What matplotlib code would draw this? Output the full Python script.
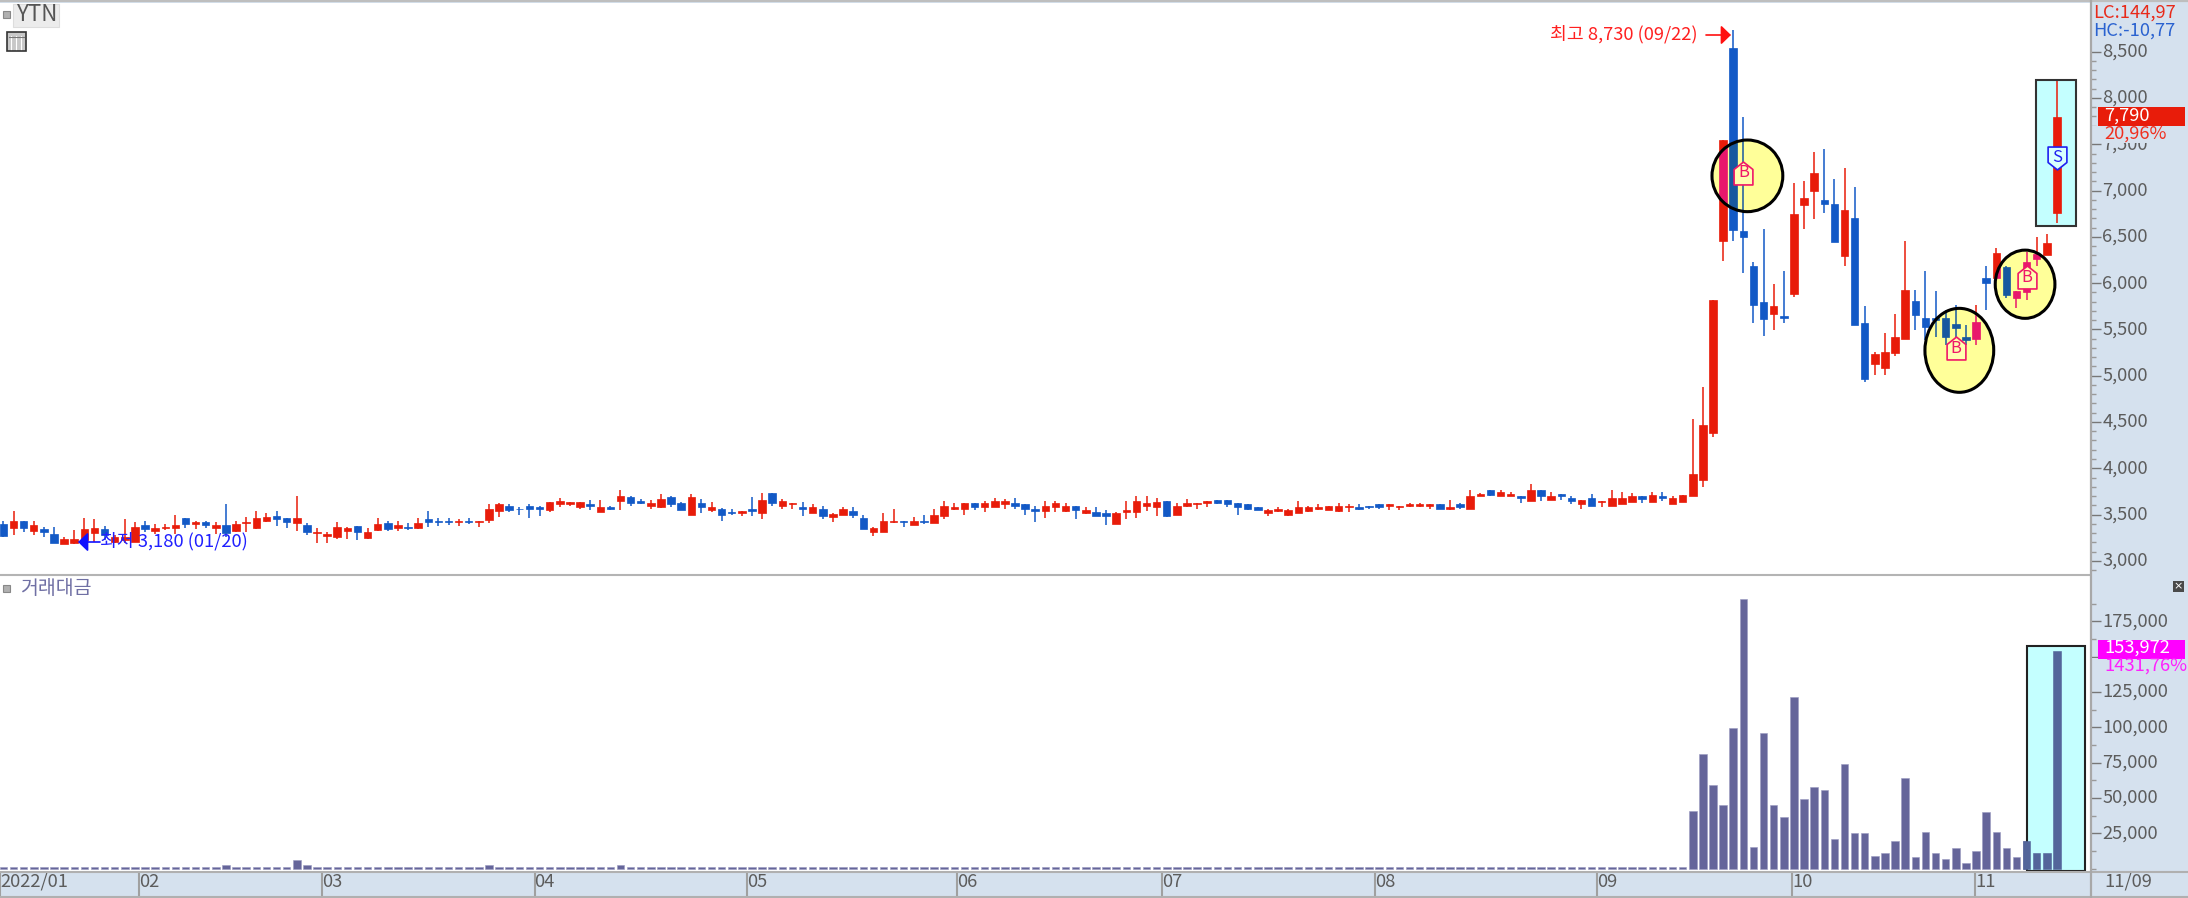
import matplotlib
matplotlib.use('Agg')
import matplotlib.pyplot as plt
from matplotlib.patches import Ellipse, Rectangle
from matplotlib.path import Path
from matplotlib.ticker import FuncFormatter
from matplotlib.transforms import ScaledTranslation

plt.rcParams['font.family'] = ['Noto Sans CJK KR', 'DejaVu Sans']

opens = [3400, 3360, 3430, 3320, 3345, 3285, 3180, 3190, 3220, 3305,
         3345, 3200, 3225, 3205, 3385, 3320, 3355, 3360, 3465, 3395,
         3415, 3360, 3385, 3325, 3410, 3355, 3425, 3485, 3465, 3405,
         3385, 3300, 3270, 3255, 3320, 3380, 3245, 3335, 3405, 3355,
         3370, 3355, 3450, 3435, 3430, 3420, 3435, 3420, 3440, 3540,
         3595, 3565, 3595, 3580, 3550, 3610, 3615, 3580, 3610, 3530,
         3580, 3645, 3690, 3645, 3590, 3580, 3690, 3630, 3500, 3630,
         3550, 3560, 3530, 3515, 3560, 3515, 3735, 3595, 3610, 3580,
         3515, 3565, 3470, 3500, 3535, 3465, 3310, 3310, 3415, 3435,
         3385, 3435, 3405, 3485, 3555, 3565, 3630, 3580, 3580, 3610,
         3630, 3610, 3565, 3540, 3580, 3535, 3595, 3515, 3530, 3515,
         3400, 3530, 3530, 3595, 3580, 3645, 3500, 3595, 3610, 3630,
         3655, 3660, 3625, 3610, 3580, 3515, 3535, 3500, 3515, 3535,
         3565, 3550, 3535, 3580, 3585, 3595, 3610, 3595, 3580, 3595,
         3595, 3595, 3610, 3565, 3610, 3565, 3695, 3760, 3705, 3695,
         3705, 3645, 3770, 3660, 3725, 3675, 3615, 3675, 3635, 3595,
         3615, 3635, 3695, 3635, 3700, 3615, 3635, 3695, 3875, 4380,
         6460, 8540, 6560, 6190, 5800, 5670, 5640, 5880, 6840, 6990,
         6900, 6850, 6290, 6700, 5570, 5130, 5080, 5250, 5400, 5810,
         5620, 5620, 5620, 5560, 5420, 5400, 6060, 6050, 6170, 5840,
         5900, 6260, 6300, 6760]
highs = [3425, 3540, 3430, 3425, 3370, 3370, 3260, 3335, 3465, 3450,
         3380, 3280, 3450, 3415, 3430, 3395, 3395, 3495, 3465, 3435,
         3435, 3415, 3610, 3425, 3475, 3540, 3515, 3540, 3465, 3705,
         3405, 3350, 3315, 3415, 3365, 3380, 3350, 3465, 3435, 3435,
         3405, 3465, 3540, 3465, 3460, 3450, 3465, 3430, 3610, 3630,
         3610, 3585, 3610, 3595, 3640, 3675, 3640, 3640, 3655, 3655,
         3595, 3760, 3695, 3670, 3655, 3720, 3705, 3640, 3720, 3670,
         3640, 3575, 3560, 3540, 3690, 3735, 3735, 3665, 3630, 3640,
         3610, 3595, 3520, 3580, 3580, 3495, 3370, 3515, 3565, 3435,
         3475, 3495, 3565, 3645, 3625, 3630, 3630, 3645, 3675, 3670,
         3675, 3610, 3595, 3645, 3645, 3630, 3595, 3580, 3580, 3550,
         3530, 3645, 3695, 3695, 3675, 3645, 3630, 3665, 3630, 3645,
         3655, 3660, 3630, 3610, 3580, 3565, 3580, 3565, 3645, 3595,
         3610, 3595, 3630, 3610, 3610, 3595, 3610, 3610, 3595, 3630,
         3630, 3610, 3610, 3660, 3630, 3770, 3735, 3760, 3770, 3740,
         3705, 3825, 3770, 3740, 3725, 3700, 3660, 3725, 3645, 3760,
         3740, 3730, 3695, 3740, 3740, 3695, 3710, 4535, 4875, 5820,
         7550, 8730, 7790, 6230, 6590, 5990, 6130, 7080, 7100, 7420,
         7450, 7130, 7240, 7040, 5750, 5260, 5460, 5670, 6450, 5930,
         6130, 5910, 5710, 5760, 5550, 5760, 6190, 6380, 6180, 5910,
         6340, 6500, 6530, 8180]
lows = [3255, 3280, 3310, 3280, 3255, 3190, 3180, 3180, 3190, 3205,
        3225, 3190, 3190, 3205, 3315, 3295, 3335, 3295, 3350, 3340,
        3350, 3295, 3255, 3310, 3315, 3345, 3415, 3375, 3355, 3320,
        3275, 3190, 3190, 3240, 3240, 3225, 3235, 3320, 3320, 3320,
        3335, 3345, 3370, 3375, 3385, 3375, 3395, 3370, 3405, 3475,
        3530, 3490, 3465, 3485, 3530, 3585, 3595, 3565, 3550, 3530,
        3550, 3550, 3595, 3610, 3560, 3575, 3580, 3550, 3500, 3515,
        3530, 3435, 3490, 3485, 3485, 3450, 3595, 3565, 3565, 3485,
        3515, 3450, 3415, 3490, 3465, 3340, 3270, 3310, 3405, 3370,
        3385, 3400, 3405, 3450, 3550, 3500, 3550, 3530, 3580, 3565,
        3565, 3495, 3415, 3465, 3530, 3530, 3450, 3510, 3485, 3385,
        3400, 3450, 3465, 3535, 3485, 3475, 3500, 3580, 3565, 3580,
        3610, 3580, 3500, 3550, 3550, 3485, 3530, 3485, 3515, 3530,
        3545, 3550, 3530, 3530, 3545, 3565, 3565, 3545, 3545, 3580,
        3580, 3565, 3565, 3550, 3565, 3565, 3695, 3695, 3695, 3695,
        3630, 3645, 3645, 3660, 3660, 3615, 3565, 3595, 3580, 3595,
        3615, 3635, 3630, 3635, 3645, 3615, 3635, 3695, 3795, 4340,
        6240, 6460, 6110, 5570, 5430, 5490, 5570, 5850, 6580, 6690,
        6760, 6440, 6180, 5550, 4930, 5010, 5010, 5210, 5400, 5490,
        5390, 5420, 5330, 5400, 5330, 5330, 5710, 6050, 5840, 5730,
        5820, 6180, 6300, 6650]
closes = [3270, 3430, 3350, 3385, 3310, 3195, 3235, 3235, 3345, 3350,
          3280, 3255, 3260, 3365, 3340, 3360, 3370, 3385, 3395, 3415,
          3390, 3385, 3305, 3400, 3420, 3465, 3475, 3455, 3420, 3465,
          3310, 3310, 3285, 3365, 3360, 3310, 3315, 3400, 3345, 3385,
          3355, 3410, 3420, 3415, 3415, 3435, 3420, 3430, 3555, 3615,
          3550, 3555, 3555, 3555, 3640, 3645, 3640, 3640, 3595, 3580,
          3555, 3695, 3630, 3630, 3630, 3670, 3610, 3550, 3690, 3580,
          3580, 3500, 3515, 3540, 3535, 3655, 3630, 3645, 3625, 3565,
          3580, 3485, 3505, 3565, 3500, 3340, 3350, 3435, 3435, 3415,
          3435, 3420, 3495, 3595, 3580, 3630, 3580, 3630, 3645, 3650,
          3595, 3565, 3535, 3595, 3630, 3595, 3550, 3550, 3485, 3485,
          3515, 3550, 3645, 3630, 3640, 3485, 3595, 3630, 3620, 3645,
          3630, 3610, 3580, 3565, 3550, 3545, 3565, 3545, 3580, 3580,
          3580, 3595, 3595, 3595, 3565, 3580, 3580, 3610, 3595, 3615,
          3615, 3610, 3565, 3580, 3580, 3705, 3725, 3710, 3740, 3725,
          3675, 3770, 3695, 3705, 3695, 3645, 3660, 3595, 3645, 3675,
          3675, 3695, 3670, 3710, 3675, 3675, 3710, 3935, 4470, 5820,
          7550, 6570, 6500, 5760, 5610, 5750, 5620, 6750, 6920, 7190,
          6860, 6440, 6790, 5550, 4960, 5230, 5260, 5420, 5930, 5660,
          5530, 5600, 5420, 5510, 5390, 5580, 6000, 6330, 5870, 5910,
          6230, 6320, 6430, 7790]
volumes = [1300, 1300, 1200, 1300, 1300, 1200, 1300, 1300, 1200, 1300,
           1300, 1200, 1300, 1300, 1200, 1300, 1300, 1200, 1300, 1300,
           1200, 1300, 2600, 1300, 1200, 1300, 1300, 1200, 1300, 6200,
           2400, 1300, 1200, 1300, 1300, 1200, 1300, 1300, 1200, 1300,
           1300, 1200, 1300, 1300, 1200, 1300, 1300, 1300, 2300, 1300,
           1200, 1300, 1300, 1200, 1300, 1300, 1200, 1300, 1300, 1200,
           1300, 2500, 1400, 1300, 1200, 1300, 1300, 1200, 1300, 1300,
           1200, 1300, 1300, 1200, 1300, 1300, 1300, 1200, 1300, 1300,
           1200, 1300, 1300, 1200, 1300, 1300, 1200, 1300, 1300, 1200,
           1300, 1300, 1200, 1300, 1300, 1200, 1300, 1300, 1200, 1300,
           1300, 1200, 1300, 1300, 1200, 1300, 1300, 1200, 1300, 1300,
           1200, 1300, 1300, 1200, 1300, 1300, 1200, 1300, 1300, 1200,
           1300, 1300, 1200, 1300, 1300, 1200, 1300, 1300, 1200, 1300,
           1300, 1200, 1300, 1300, 1200, 1300, 1300, 1200, 1300, 1300,
           1200, 1300, 1300, 1200, 1300, 1300, 1200, 1300, 1300, 1200,
           1300, 1400, 1300, 1300, 1200, 1300, 1300, 1200, 1300, 1300,
           1200, 1300, 1300, 1200, 1300, 1300, 1200,
           40800, 81350, 58950, 45270, 99500, 190750, 15560, 96200, 45270, 36800,
           121700, 49500, 58000, 55900, 21000, 74000, 25200, 25200, 9200, 11300,
           19800, 64400, 8250, 26200, 11300, 7000, 14600, 4000, 12500, 39850,
           26200, 14600, 8250, 19800, 11300, 11300, 153972]

month_pos = [-0.34, 13.45, 31.5, 52.5, 73.5, 94.3, 114.5, 135.6, 157.5, 176.8, 194.9]
month_labels = ['2022/01', '02', '03', '04', '05', '06', '07', '08', '09', '10', '11']
price_ticks = [3000, 3500, 4000, 4500, 5000, 5500, 6000, 6500, 7000, 7500, 8000, 8500]
vol_ticks = [25000, 50000, 75000, 100000, 125000, 150000, 175000]
buy_idx = [172, 193, 200]
buy_price = [7190, 5294, 6061]
sell_idx = [203]
sell_price = [7357]

RED, BLUE = '#E81C0A', '#1259C6'
PINK, DKBLUE = '#E8186C', '#17589F'
PANEL = '#D5E1EE'
FS = 13.2
W, H = 2188, 898
SP = 10.116  # px per candle
X0 = 3.4


def place(top, bottom, right=2090.5):
    return [0, 1 - bottom / H, right / W, (bottom - top) / H]


def draw_candles(ax, idx, up_col, down_col, clip=None, z=3):
    for i in idx:
        col = up_col if closes[i] >= opens[i] else down_col
        wick = ax.vlines(i, lows[i], highs[i], color=col, lw=1.1, zorder=z)
        body = ax.bar(i, abs(closes[i] - opens[i]), bottom=min(opens[i], closes[i]), width=0.74,
                      color=col, edgecolor=col, lw=0.5, zorder=z)
        if clip is not None:
            wick.set_clip_path(clip)
            body[0].set_clip_path(clip)


fig = plt.figure(figsize=(W / 100, H / 100), dpi=100, facecolor=PANEL)
ax = fig.add_axes(place(3, 575))
axv = fig.add_axes(place(576, 870.5))
for a in (ax, axv):
    a.set_xlim(-X0 / SP, (2090.5 - X0) / SP)
    a.set_facecolor('white')
    for s in a.spines.values():
        s.set_visible(False)
    a.yaxis.tick_right()
    a.tick_params(axis='y', which='major', length=7.5, width=1, color='#777777',
                  labelcolor='#5c5c5c', labelsize=FS, pad=1)
    a.tick_params(axis='y', which='minor', length=3.8, width=1, color='#999999')
    a.yaxis.set_major_formatter(FuncFormatter(lambda v, p: f'{v:,.0f}'))

ax.set_ylim(8500 - (575 - 51.7) / 0.09257, 8500 + (51.7 - 3) / 0.09257)
ax.set_xticks([])
ax.set_yticks(price_ticks)
ax.set_yticks(range(2900, 8600, 100), minor=True)

idx_all = list(range(len(opens)))
draw_candles(ax, idx_all, RED, BLUE)

# yellow circles round the buy signals, candles inside change colour
circles = [(172.4, 7159, 7.0, 774), (193.35, 5274, 6.8, 907), (199.85, 5988, 5.9, 737)]
for cx, cy, w, h in circles:
    fill = Ellipse((cx, cy), w, h, facecolor='#FFFF99', edgecolor='none', zorder=4)
    ax.add_patch(fill)
    near = [i for i in idx_all if abs(i - cx) < w]
    draw_candles(ax, near, PINK, DKBLUE, clip=fill, z=5)
    ax.add_patch(Ellipse((cx, cy), w, h, facecolor='none', edgecolor='black', lw=2.2, zorder=6))

# sell box on the last candle
ax.add_patch(Rectangle((200.9, 6617), 3.95, 1577, facecolor='#C4FFFF', edgecolor='#333333', lw=1.5, zorder=4))
draw_candles(ax, [203], RED, BLUE, z=5)

house = Path([(-0.82, -1), (0.82, -1), (0.82, 0.35), (0, 1), (-0.82, 0.35), (-0.82, -1)], closed=True)
shield = Path([(-0.82, 1), (0.82, 1), (0.82, -0.35), (0, -1), (-0.82, -0.35), (-0.82, 1)], closed=True)
ax.plot(buy_idx, buy_price, ls='none', marker=house, ms=16.5, mfc='#FFFFB0', mec='#F01868', mew=1.2, zorder=7)
ax.plot(sell_idx, sell_price, ls='none', marker=shield, ms=16.5, mfc='#D8FFFF', mec='#2020F0', mew=1.2, zorder=7)
for i, p in zip(buy_idx, buy_price):
    ax.text(i, p, 'B', color='#F01868', ha='center', va='center', fontsize=12, zorder=8)
for i, p in zip(sell_idx, sell_price):
    ax.text(i, p, 'S', color='#2020F0', ha='center', va='center', fontsize=12, zorder=8)

# volume pane
axv.set_ylim(-(870.5 - 868.5) / 0.001412, (868.5 - 576) / 0.001412)
axv.bar(idx_all, volumes, width=0.74, color='#65659A', edgecolor='#9A9AC0', lw=0.4, zorder=3)
vbox = Rectangle((200, -1500), 5.8, 159100, facecolor='#C4FFFF', edgecolor='#222222', lw=1.5, zorder=4)
axv.add_patch(vbox)
vb = axv.bar(idx_all[200:], volumes[200:], width=0.74, color='#53659A', edgecolor='#53659A', lw=0.4, zorder=5)
axv.set_yticks(vol_ticks)
axv.set_yticks(range(0, 200000, 12500), minor=True)
axv.set_xticks(month_pos)
axv.set_xticklabels(month_labels, ha='left', fontsize=FS, color='#5c5c5c')
axv.tick_params(axis='x', length=18.5, width=1.5, color='#A0A0A0', pad=-17)

# the labels sit a little above their ticks in the original
for a in (ax, axv):
    for lab in a.get_yticklabels():
        lab.set_transform(lab.get_transform() + ScaledTranslation(0, 2 / 100, fig.dpi_scale_trans))

# everything around the panes, in picture pixels
top = fig.add_axes([0, 0, 1, 1], zorder=10)
top.set_xlim(0, W)
top.set_ylim(H, 0)
top.axis('off')
top.patch.set_visible(False)
for x1, y1, x2, y2, c, lw in [(0, 1, 2188, 1, '#BEBEBE', 1.6), (0, 575, 2091, 575, '#B4B4B4', 1.5),
                              (0, 871.5, 2188, 871.5, '#B0B0B0', 1.5), (0, 897, 2188, 897, '#B0B0B0', 1.5),
                              (2091, 0, 2091, 898, '#A8A8A8', 1.6)]:
    top.plot([x1, x2], [y1, y2], color=c, lw=lw, solid_capstyle='butt')

top.text(2093, 13, 'LC:144,97', color='#E82A1A', fontsize=FS, va='center')
top.text(2093, 31, 'HC:-10,77', color='#2A62D0', fontsize=FS, va='center')
top.add_patch(Rectangle((2091.8, 126), 96, 17, facecolor=PANEL, edgecolor='none'))
top.add_patch(Rectangle((2098, 107), 87, 19, facecolor=RED, edgecolor='none'))
top.text(2104, 115.5, '7,790', color='white', fontsize=FS, va='center')
top.text(2104, 134, '20,96%', color='#F03020', fontsize=FS, va='center')
top.add_patch(Rectangle((2091.8, 658), 96, 18, facecolor=PANEL, edgecolor='none'))
top.add_patch(Rectangle((2098, 639.5), 87, 19, facecolor='#FF00FF', edgecolor='none'))
top.text(2104, 648, '153,972', color='white', fontsize=FS, va='center')
top.text(2104, 666, '1431,76%', color='#FF20FF', fontsize=FS, va='center')
top.text(2104, 882, '11/09', color='#5c5c5c', fontsize=FS, va='center')
top.add_patch(Rectangle((2173, 581), 11, 11, facecolor='#4A4A4A', edgecolor='none'))
top.text(2178.5, 586.5, '×', color='white', fontsize=8, ha='center', va='center', family='DejaVu Sans')

# top left labels
top.add_patch(Rectangle((3, 11), 7, 7, facecolor='#B0B0B0', edgecolor='#888888', lw=0.8))
top.add_patch(Rectangle((13, 4), 46, 23, facecolor='#ECECEC', edgecolor='#DDDDDD', lw=0.8))
top.text(37, 14.5, 'YTN', color='#555555', fontsize=16, ha='center', va='center')
top.add_patch(Rectangle((6.5, 32), 19, 19, facecolor='#C8C8C8', edgecolor='#333333', lw=1.2))
for gx in (11, 16, 21):
    top.plot([gx, gx], [36, 49], color='#FFFFFF', lw=0.8)
top.plot([9, 23.5], [37, 37], color='#777777', lw=0.8)
top.add_patch(Rectangle((3, 585), 7, 7, facecolor='#B0B0B0', edgecolor='#888888', lw=0.8))
top.text(20, 588.5, '거래대금', color='#7070A4', fontsize=14, va='center')

# high / low notes
top.text(1550, 34, '최고 8,730 (09/22)', color='#FF2020', fontsize=FS, va='center')
top.annotate('', xy=(1731, 35), xytext=(1706, 35),
             arrowprops=dict(arrowstyle='-|>,head_length=0.6,head_width=0.58', mutation_scale=10,
                             color='#FF1010', lw=1.2, shrinkA=0, shrinkB=0))
top.text(100, 541, '최저 3,180 (01/20)', color='#2020FF', fontsize=FS, va='center')
top.annotate('', xy=(78, 542), xytext=(100, 542),
             arrowprops=dict(arrowstyle='-|>,head_length=0.6,head_width=0.58', mutation_scale=10,
                             color='#1010FF', lw=1.2, shrinkA=0, shrinkB=0))

fig.savefig('out.png', dpi=100, facecolor=PANEL)
